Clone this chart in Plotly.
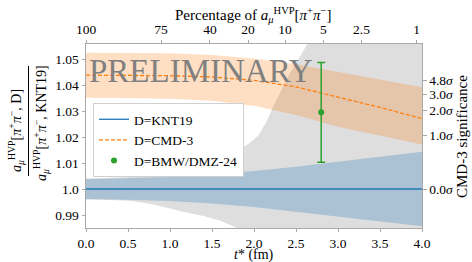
import plotly.graph_objects as go

# ---------------- data ----------------
t_grid = [0.0, 0.5, 1.0, 1.5, 2.0, 2.5, 3.0, 3.5, 4.0]
knt19_center = [1.0, 1.0, 1.0, 1.0, 1.0, 1.0, 1.0, 1.0, 1.0]
knt19_halfwidth = [0.0038, 0.0041, 0.0046, 0.0056, 0.0069, 0.0086, 0.0105, 0.0124, 0.0143]

cmd3_center = [1.0438, 1.0438, 1.0436, 1.0431, 1.0418, 1.0393, 1.0355, 1.0314, 1.0271]
cmd3_upper = [1.0524, 1.0524, 1.0522, 1.0516, 1.0502, 1.0480, 1.0450, 1.0421, 1.0392]
cmd3_lower = [1.0351, 1.0350, 1.0347, 1.0340, 1.0320, 1.0285, 1.0240, 1.0205, 1.0171]

gray_t = [0.0, 0.3, 0.5, 0.65, 0.8, 1.0, 1.17, 1.4, 1.6, 1.8, 1.93, 2.05, 2.15, 2.23, 2.33, 2.43, 2.53, 2.63, 2.8, 3.0, 3.5, 4.0]
gray_halfwidth = [0.0040, 0.0042, 0.0045, 0.0051, 0.0060, 0.0074, 0.0088, 0.0104, 0.0122, 0.0150, 0.0172, 0.0205, 0.0260, 0.0318, 0.0382, 0.0446, 0.0500, 0.0554, 0.064, 0.075, 0.103, 0.131]

bmw_t = [2.8]
bmw_value = [1.0295]
bmw_error = [0.0192]

pct_labels = ["100", "75", "40", "20", "10", "5", "2.5", "1"]
pct_t = [0.0, 0.893, 1.476, 1.93, 2.37, 2.825, 3.28, 3.937]

sig_labels = ["0.0<i>σ</i>", "1.0<i>σ</i>", "2.0<i>σ</i>", "3.0<i>σ</i>", "4.8<i>σ</i>"]
sig_values = [1.0, 1.02077, 1.03038, 1.03654, 1.0419]

x_ticks = [0.0, 0.5, 1.0, 1.5, 2.0, 2.5, 3.0, 3.5, 4.0]
y_ticks = [0.99, 1.0, 1.01, 1.02, 1.03, 1.04, 1.05]
y_ticktext = ["0.99", "1.0", "1.01", "1.02", "1.03", "1.04", "1.05"]

# ---------------- layout geometry ----------------
W, H = 472, 262
L, R, T, B = 86, 422, 44, 228
YMIN, YMAX = 0.985, 1.0558
FONT = "Liberation Serif"
SPINE = "#a8a8a8"


def px2x(px):
    return (px - L) / (R - L)


def py2y(py):
    return (B - py) / (B - T)


fig = go.Figure()

# gray region
g_up = [1.0 + h for h in gray_halfwidth]
g_lo = [1.0 - h for h in gray_halfwidth]
fig.add_trace(go.Scatter(
    x=gray_t + gray_t[::-1], y=g_up + g_lo[::-1], fill="toself",
    fillcolor="#dedede", line=dict(width=0),
    mode="lines", showlegend=False, hoverinfo="skip"))

# KNT19 band
k_up = [c + h for c, h in zip(knt19_center, knt19_halfwidth)]
k_lo = [c - h for c, h in zip(knt19_center, knt19_halfwidth)]
fig.add_trace(go.Scatter(
    x=t_grid + t_grid[::-1], y=k_up + k_lo[::-1], fill="toself",
    fillcolor="rgba(31,119,180,0.27)", line=dict(width=0),
    mode="lines", showlegend=False, hoverinfo="skip"))

# CMD-3 band
fig.add_trace(go.Scatter(
    x=t_grid + t_grid[::-1], y=cmd3_upper + cmd3_lower[::-1], fill="toself",
    fillcolor="rgba(255,127,14,0.25)", line=dict(width=0),
    mode="lines", showlegend=False, hoverinfo="skip"))

# lines
fig.add_trace(go.Scatter(
    x=t_grid, y=knt19_center, mode="lines", name="D=KNT19",
    line=dict(color="#1f77b4", width=1.3)))
fig.add_trace(go.Scatter(
    x=t_grid, y=cmd3_center, mode="lines", name="D=CMD-3",
    line=dict(color="#ff7f0e", width=1.3, dash="4px,2px")))
fig.add_trace(go.Scatter(
    x=bmw_t, y=bmw_value, mode="markers", name="D=BMW/DMZ-24",
    marker=dict(color="#2ca02c", size=6),
    error_y=dict(type="data", array=bmw_error, color="#2ca02c", thickness=1.5, width=4)))

# dummy trace for secondary axes
fig.add_trace(go.Scatter(x=[None], y=[None], xaxis="x2", yaxis="y2",
                         showlegend=False, hoverinfo="skip"))

tickfont = dict(family=FONT, size=13.5, color="black")
axis_common = dict(showline=True, linecolor=SPINE, linewidth=1, ticks="outside",
                   tickcolor=SPINE, tickfont=tickfont,
                   showgrid=False, zeroline=False)

fig.update_layout(
    width=W, height=H,
    margin=dict(l=L, r=W - R, t=T, b=H - B, pad=0),
    paper_bgcolor="white", plot_bgcolor="white",
    font=dict(family=FONT),
    xaxis=dict(range=[0, 4], tickvals=x_ticks, ticklen=3,
               ticktext=[f"{v:.1f}" for v in x_ticks], **axis_common),
    yaxis=dict(range=[YMIN, YMAX], tickvals=y_ticks, ticklen=3.5,
               ticktext=y_ticktext, **axis_common),
    xaxis2=dict(range=[0, 4], overlaying="x", side="top", tickvals=pct_t, ticklen=3.5,
                ticktext=pct_labels, **axis_common),
    yaxis2=dict(range=[YMIN, YMAX], overlaying="y", side="right", tickvals=sig_values,
                ticklen=3.5, ticktext=sig_labels, **axis_common),
    legend=dict(x=px2x(93), y=py2y(103), xanchor="left", yanchor="top",
                bgcolor="white", bordercolor="#d0d0d0", borderwidth=1,
                font=dict(family=FONT, size=13.5, color="black"),
                tracegroupgap=0),
    showlegend=True,
)

annos = [
    dict(text="PRELIMINARY", x=px2x(201), y=py2y(71), font=dict(family=FONT, size=33, color="#808080")),
    dict(text="Percentage of <i>a</i><sub><i>μ</i></sub><sup>HVP</sup>[<i>π</i><sup>+</sup><i>π</i><sup>−</sup>]",
         x=px2x(253), y=py2y(15), font=dict(family=FONT, size=15, color="black")),
    dict(text="<i>t</i>* (fm)", x=px2x(254), y=py2y(246), yanchor="top", borderpad=0,
         font=dict(family=FONT, size=14, color="black")),
    dict(text="CMD-3 significance", x=px2x(462), y=py2y(137), textangle=-90,
         font=dict(family=FONT, size=15, color="black")),
    dict(text="<i>a</i><sub><i>μ</i></sub><sup>HVP</sup>[<i>π</i><sup>+</sup><i>π</i><sup>−</sup>, D]",
         x=px2x(16), y=py2y(131), textangle=-90,
         font=dict(family=FONT, size=14, color="black")),
    dict(text="<i>a</i><sub><i>μ</i></sub><sup>HVP</sup>[<i>π</i><sup>+</sup><i>π</i><sup>−</sup>, KNT19]",
         x=px2x(41), y=py2y(123), textangle=-90,
         font=dict(family=FONT, size=14, color="black")),
]
for a in annos:
    a.setdefault("yanchor", "middle")
    fig.add_annotation(xref="paper", yref="paper", showarrow=False,
                       xanchor="center", **a)

fig.add_shape(type="line", xref="paper", yref="paper",
              x0=px2x(28.5), x1=px2x(28.5), y0=py2y(66), y1=py2y(176),
              line=dict(color="black", width=1))

fig.write_html("out.html", config={"displayModeBar": False},
               post_script="document.body.style.margin='0px';document.body.style.padding='0px';")
